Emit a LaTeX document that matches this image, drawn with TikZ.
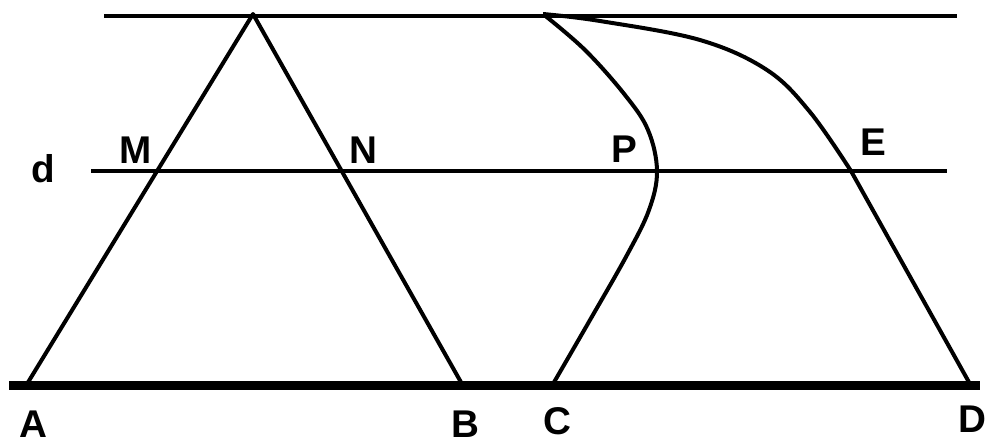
\documentclass[tikz,border=0pt]{standalone}
\usepackage{fontspec}
\setmainfont{Liberation Sans}
\begin{document}
\begin{tikzpicture}[x=0.02cm,y=-0.02cm,
  thinln/.style={line width=0.08cm,line join=round},
  thickln/.style={line width=0.18cm},
  lbl/.style={font=\fontsize{22}{22}\selectfont\bfseries,anchor=base,inner sep=0pt}]
\useasboundingbox (0,0) rectangle (985,444);
% named points
\coordinate (T) at (253,14);
\coordinate (Q) at (543,14);
\coordinate (A) at (27,384);
\coordinate (B) at (462,384);
\coordinate (C) at (553,384);
\coordinate (D) at (970,384);
\coordinate (E) at (851,171);
% horizontal lines
\draw[thinln] (104,16) -- (957,16);
\draw[thinln] (91,171) -- (947,171);
\draw[thickln] (9,385) -- (980,385);
% triangle
\draw[thinln] (A) -- (T) -- (B);
% curve through P to C
\draw[thinln] plot[smooth,tension=0.6] coordinates {(Q) (585,50) (625,95) (648,130) (657,171) (649,210) (627,255) (590,320) (C)};
% curve through E to D
\draw[thinln] plot[smooth,tension=0.6] coordinates {(Q) (600,21) (700,40) (767,70) (810,112) (E)} -- (D);
% labels
\node[lbl] (ld) at (43,182) {d};
\node[lbl] (lM) at (136,163) {M};
\node[lbl] (lN) at (363,163) {N};
\node[lbl] (lP) at (624,162) {P};
\node[lbl] (lE) at (873,155) {E};
\node[lbl] (lA) at (33,437) {A};
\node[lbl] (lB) at (465,437) {B};
\node[lbl] (lC) at (557,434) {C};
\node[lbl] (lD) at (972,432) {D};
\end{tikzpicture}
\end{document}
